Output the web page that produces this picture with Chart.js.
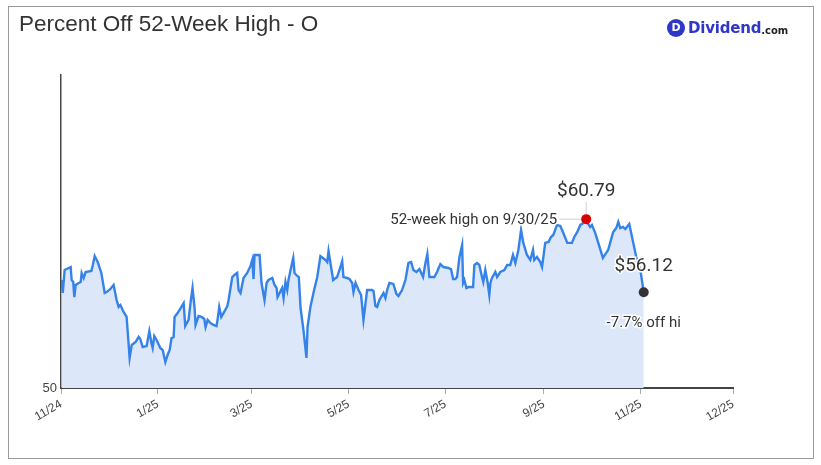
<!DOCTYPE html>
<html>
<head>
<meta charset="utf-8">
<script src="https://cdn.jsdelivr.net/npm/chart.js@4.4.1/dist/chart.umd.min.js"></script>
<style>
    body { margin: 0; background: #fff; font-family: "Liberation Sans", Arial, sans-serif; }
    #wrap { position: relative; width: 821px; height: 465px; }
    #grafico { position: absolute; left: 0; top: 0; }
    #frame { position: absolute; left: 8px; top: 6px; width: 804px; height: 451px; border: 1px solid #9a9a9a; pointer-events: none; }
    #titulo { position: absolute; left: 19px; top: 11px; font-size: 22.5px; color: #333; }
    #logo { position: absolute; left: 667px; top: 19px; display: flex; align-items: center; font-family: "DejaVu Sans", sans-serif; }
    #logo .d { width: 18px; height: 18px; border-radius: 50%; background: #2f37c9; color: #fff; font-size: 11px; font-weight: bold; text-align: center; line-height: 18px; margin-right: 3px; }
    #logo .nome { color: #2f37c9; font-weight: bold; font-size: 15px; letter-spacing: -0.2px; }
    #logo .com { color: #222; font-weight: bold; font-size: 10px; margin-top: 4px; }
</style>
</head>
<body>
<div id="wrap">
    <canvas id="grafico" width="821" height="465"></canvas>
    <div id="titulo">Percent Off 52-Week High - O</div>
    <div id="logo"><div class="d">D</div><span class="nome">Dividend</span><span class="com">.com</span></div>
    <div id="frame"></div>
</div>
<script>
// dias contados a partir de 1/11/2024
const dias = [0.3,1.1,2.3,4.8,6.1,6.7,7.7,8.4,9.2,11.1,12.4,13.0,14.3,15.5,19.1,19.9,21.2,23.1,25.4,27.5,
    28.7,31.1,33.1,35.0,36.3,37.4,39.4,41.3,43.2,44.5,47.0,48.9,49.9,51.4,53.9,55.6,56.9,57.7,58.7,60.2,
    62.5,64.0,65.7,67.1,68.4,69.6,70.9,71.5,73.4,75.3,77.2,78.2,80.3,81.6,82.8,84.1,84.7,86.6,88.5,90.2,
    91.0,92.3,94.1,96.0,97.9,98.7,99.6,100.9,102.3,104.7,105.5,107.8,109.9,110.9,111.8,113.0,114.9,117.2,119.3,120.4,
    121.2,121.8,125.0,126.2,128.1,129.4,130.6,133.0,134.4,135.7,136.3,137.6,139.2,140.1,141.3,142.4,143.2,144.5,146.2,147.0,
    148.7,149.7,150.8,152.6,154.5,155.2,157.0,158.9,161.3,163.3,166.5,167.6,168.4,169.6,171.3,173.8,175.3,177.0,177.8,180.1,
    181.6,183.3,184.1,185.4,187.3,188.9,190.4,192.7,195.8,196.7,197.9,199.0,200.4,203.0,204.2,205.3,206.7,209.2,211.1,212.4,
    214.7,216.8,218.7,220.4,221.8,223.7,225.6,227.9,229.4,230.6,231.9,233.6,235.0,236.7,238.8,240.7,243.8,245.5,246.8,248.2,
    249.3,250.8,252.5,253.1,253.9,255.2,256.6,259.4,260.2,261.9,263.3,265.0,265.8,267.1,268.6,269.6,270.3,271.3,273.4,274.5,
    276.5,279.1,280.8,282.8,284.5,286.0,287.9,289.6,291.0,293.3,295.4,297.1,297.9,299.6,301.7,302.8,304.8,306.9,308.4,309.9,
    312.2,314.3,316.2,318.7,321.6,323.1,325.0,326.9,328.8,330.6,331.5,333.1,334.2,336.3,338.2,341.1,343.2,344.4,346.2,347.6,
    349.5,350.8,352.0,353.7,355.2,356.2,357.7,362.1,364.7,366.8];
const precos = [56.90,56.07,57.54,57.67,57.73,56.90,56.77,55.81,56.58,56.71,56.77,57.35,57.03,57.41,57.48,57.80,58.43,58.05,57.35,56.07,
    56.13,56.33,56.58,55.62,55.18,55.30,54.86,54.54,51.92,52.75,52.94,53.26,53.13,52.62,52.68,53.64,52.88,52.56,53.32,53.07,
    52.56,52.43,51.66,52.11,52.43,53.19,53.26,54.54,54.79,55.11,55.43,53.96,54.35,55.50,56.39,55.11,54.03,54.60,54.54,54.41,
    53.90,54.35,54.15,54.03,53.96,54.47,55.18,54.54,54.79,55.24,55.62,57.09,57.28,57.35,56.26,56.07,57.03,57.35,57.80,58.18,
    56.96,58.50,58.50,56.71,55.62,56.71,56.90,57.03,56.58,56.39,55.81,56.07,56.39,55.75,56.77,56.26,56.90,57.54,58.31,57.35,
    57.16,57.09,55.11,53.71,51.92,53.90,55.18,56.07,57.09,58.43,58.18,58.05,58.75,57.99,56.90,57.09,57.54,58.11,57.09,57.03,
    56.96,56.71,56.13,56.71,56.26,55.94,54.35,56.26,56.26,56.20,55.24,55.18,55.62,56.07,55.75,56.26,56.71,56.65,56.01,55.88,
    56.26,56.90,57.99,58.05,57.54,57.41,57.60,57.09,57.99,58.56,57.09,57.09,57.09,57.41,57.92,57.73,57.67,57.60,56.96,56.96,
    57.09,58.37,59.14,56.71,56.90,56.39,56.45,56.45,57.86,57.99,57.86,57.09,56.77,57.54,56.71,55.94,56.71,57.03,57.41,57.09,
    57.41,57.54,57.86,57.86,58.50,57.99,58.82,60.10,59.27,58.50,58.18,58.82,58.18,58.37,58.05,57.73,59.27,59.33,59.65,59.78,
    60.42,60.35,59.90,59.27,59.27,59.65,59.97,60.42,60.54,60.79,60.54,60.29,60.42,59.90,59.27,58.31,58.63,58.82,59.46,59.97,
    60.22,60.61,60.22,60.29,60.16,60.29,60.48,58.37,57.54,56.12];

const tickDias = [0, 61, 120, 181, 242, 304, 365, 423];
const tickRotulos = ['11/24', '1/25', '3/25', '5/25', '7/25', '9/25', '11/25', '12/25'];

const rotuloMaxima = '52-week high on 9/30/25';
const rotuloQueda = '-7.7% off hi';

const pontos = dias.map((d, i) => ({ x: d, y: precos[i] }));
const iMax = precos.indexOf(Math.max(...precos));
const iFim = precos.length - 1;

// anotações: ponto da máxima e ponto atual
const anotacoes = {
    id: 'anotacoes',
    afterDatasetsDraw(chart) {
        const c = chart.ctx;
        const sx = chart.scales.x, sy = chart.scales.y;
        const mx = sx.getPixelForValue(dias[iMax]), my = sy.getPixelForValue(precos[iMax]);
        const fx = sx.getPixelForValue(dias[iFim]), fy = sy.getPixelForValue(precos[iFim]);
        c.save();

        c.strokeStyle = '#cfcfcf';
        c.lineWidth = 1;
        c.beginPath();
        c.moveTo(mx, my); c.lineTo(mx - 27, my);
        c.moveTo(mx, my); c.lineTo(mx, my - 17);
        c.stroke();

        c.fillStyle = '#d90000';
        c.beginPath(); c.arc(mx, my, 5, 0, Math.PI * 2); c.fill();
        c.fillStyle = '#333';
        c.beginPath(); c.arc(fx, fy, 5, 0, Math.PI * 2); c.fill();

        const texto = (t, x, y, tam, alinh) => {
            c.font = tam + 'px Roboto';
            c.textAlign = alinh;
            c.textBaseline = 'middle';
            c.lineWidth = 3;
            c.strokeStyle = '#fff';
            c.strokeText(t, x, y);
            c.fillStyle = '#333';
            c.fillText(t, x, y);
        };
        texto('$' + precos[iMax].toFixed(2), mx, my - 28, 19, 'center');
        texto(rotuloMaxima, mx - 29, my + 1, 15, 'right');
        texto('$' + precos[iFim].toFixed(2), fx, fy - 26, 19, 'center');
        texto(rotuloQueda, fx, fy + 31, 15, 'center');
        c.restore();
    }
};

const ctx = document.getElementById('grafico').getContext('2d');
new Chart(ctx, {
    type: 'line',
    data: {
        datasets: [{
            data: pontos,
            borderColor: '#3583e8',
            borderWidth: 2.4,
            backgroundColor: '#dce7fa',
            fill: 'start',
            pointRadius: 0,
            tension: 0
        }]
    },
    options: {
        responsive: false,
        animation: false,
        layout: { padding: { left: 0, top: 75, right: 88, bottom: 0 } },
        plugins: { legend: { display: false }, tooltip: { enabled: false } },
        scales: {
            x: {
                type: 'linear',
                min: 0,
                max: 423,
                z: 1,
                afterBuildTicks: s => { s.ticks = tickDias.map(v => ({ value: v })); },
                afterFit: s => { s.height = 77; },
                ticks: {
                    autoSkip: false,
                    minRotation: 30,
                    maxRotation: 30,
                    color: '#444',
                    font: { family: 'Liberation Sans', size: 12 },
                    padding: 3,
                    callback: v => tickRotulos[tickDias.indexOf(v)]
                },
                grid: { drawOnChartArea: false, color: '#aaa', tickLength: 6 },
                border: { color: '#444', width: 2 }
            },
            y: {
                min: 50,
                max: 70,
                z: 1,
                afterBuildTicks: s => { s.ticks = [{ value: 50 }]; },
                afterFit: s => { s.width = 61; },
                ticks: {
                    color: '#444',
                    font: { family: 'Liberation Sans', size: 13 },
                    padding: 4
                },
                grid: { drawOnChartArea: false, drawTicks: false },
                border: { color: '#444', width: 1.5 }
            }
        }
    },
    plugins: [anotacoes]
});
</script>
</body>
</html>
